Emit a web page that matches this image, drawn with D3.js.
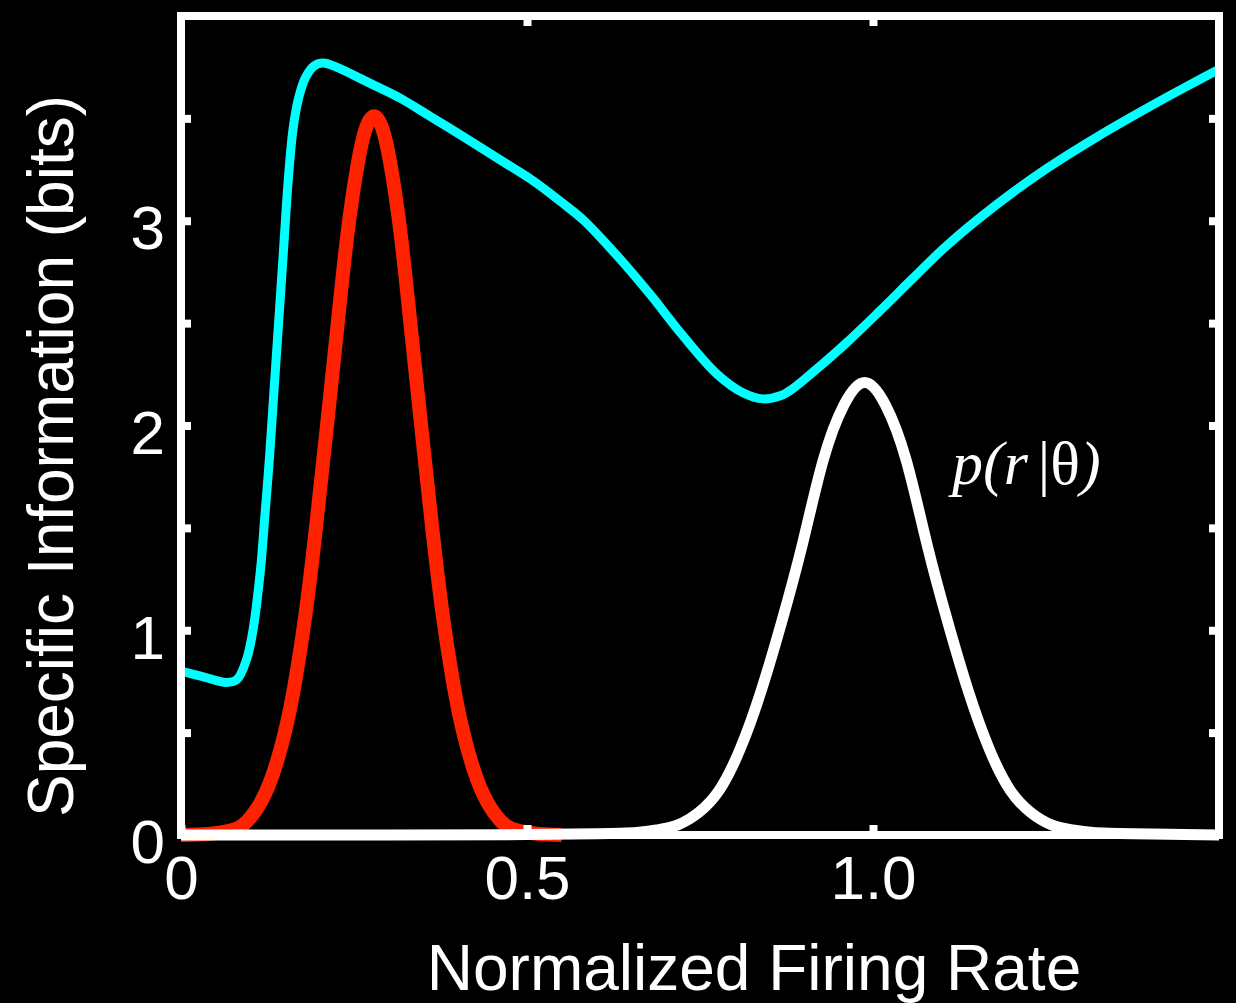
<!DOCTYPE html>
<html>
<head>
<meta charset="utf-8">
<script src="https://cdn.jsdelivr.net/npm/d3@7"></script>
<style>
  html, body { margin: 0; padding: 0; background: #000; }
  svg { display: block; }
</style>
</head>
<body>
<script>
// ---------- data ----------
const cyanX = [0, 0.03, 0.066, 0.081, 0.095, 0.104, 0.115, 0.121, 0.128, 0.134, 0.14, 0.148, 0.155, 0.162, 0.17, 0.18, 0.192, 0.205, 0.225, 0.25, 0.28, 0.316, 0.36, 0.413, 0.46, 0.509, 0.55, 0.581, 0.63, 0.678, 0.725, 0.775, 0.812, 0.841, 0.866, 0.884, 0.913, 0.962, 1.01, 1.058, 1.107, 1.179, 1.251, 1.324, 1.396, 1.45, 1.5];
const cyanY = [0.80, 0.775, 0.745, 0.76, 0.86, 1.0, 1.3, 1.55, 1.85, 2.15, 2.45, 2.85, 3.2, 3.45, 3.6, 3.7, 3.755, 3.77, 3.75, 3.71, 3.66, 3.6, 3.51, 3.40, 3.30, 3.195, 3.09, 3.005, 2.83, 2.64, 2.44, 2.25, 2.16, 2.13, 2.145, 2.18, 2.26, 2.405, 2.56, 2.72, 2.88, 3.08, 3.255, 3.41, 3.55, 3.65, 3.74];

const redX = [0, 0.04, 0.07, 0.09, 0.11, 0.13, 0.15, 0.165, 0.18, 0.195, 0.21, 0.225, 0.24, 0.255, 0.267, 0.279, 0.291, 0.303, 0.318, 0.333, 0.348, 0.363, 0.378, 0.393, 0.408, 0.428, 0.448, 0.468, 0.488, 0.518, 0.55];
const redY = [0, 0.005, 0.02, 0.05, 0.13, 0.27, 0.5, 0.75, 1.08, 1.5, 1.97, 2.45, 2.92, 3.27, 3.45, 3.51, 3.45, 3.27, 2.92, 2.45, 1.97, 1.5, 1.08, 0.75, 0.5, 0.27, 0.13, 0.05, 0.02, 0.005, 0];

const whiteX = [0, 0.3, 0.5, 0.6, 0.658, 0.688, 0.718, 0.748, 0.778, 0.808, 0.838, 0.868, 0.898, 0.928, 0.958, 0.988, 1.018, 1.048, 1.078, 1.108, 1.138, 1.168, 1.198, 1.228, 1.258, 1.288, 1.318, 1.376, 1.45, 1.5];
const whiteY = [0, 0, 0.002, 0.006, 0.012, 0.025, 0.05, 0.11, 0.22, 0.42, 0.70, 1.04, 1.42, 1.83, 2.1, 2.21, 2.1, 1.83, 1.42, 1.04, 0.70, 0.42, 0.22, 0.11, 0.05, 0.025, 0.012, 0.006, 0.002, 0];

const xTickValues = [0, 0.5, 1.0];
const xTickLabels = ["0", "0.5", "1.0"];
const yTickValues = [0, 0.5, 1, 1.5, 2, 2.5, 3, 3.5];
const yTickLabels = ["0", "", "1", "", "2", "", "3", ""];

const xTitle = "Normalized Firing Rate";
const yTitle = "Specific Information (bits)";

// ---------- layout ----------
const W = 1236, H = 1003;
const L = 181, R = 1219, T = 16, B = 835;

const svg = d3.select("body").append("svg")
  .attr("width", W).attr("height", H)
  .style("background", "#000");

svg.append("rect").attr("width", W).attr("height", H).attr("fill", "#000");

const x = d3.scaleLinear().domain([0, 1.5]).range([L, R]);
const y = d3.scaleLinear().domain([0, 4]).range([B, T]);

const sans = "'Liberation Sans', Arial, Helvetica, sans-serif";

// curves (drawn first, frame on top)
const smoothLine = d3.line()
  .x(d => x(d[0])).y(d => y(Math.max(0, d[1])))
  .curve(d3.curveNatural);
const cyanLine = d3.line()
  .x(d => x(d[0])).y(d => y(d[1]))
  .curve(d3.curveCatmullRom.alpha(0.5));

const zipped = (xs, ys) => xs.map((v, i) => [v, ys[i]]);

svg.append("path").datum(zipped(redX, redY))
  .attr("d", smoothLine).attr("fill", "none")
  .attr("stroke", "#ff2200").attr("stroke-width", 14)
  .attr("stroke-linejoin", "round");

svg.append("path").datum(zipped(whiteX, whiteY))
  .attr("d", smoothLine).attr("fill", "none")
  .attr("stroke", "#fff").attr("stroke-width", 11)
  .attr("stroke-linejoin", "round");

svg.append("path").datum(zipped(cyanX, cyanY))
  .attr("d", cyanLine).attr("fill", "none")
  .attr("stroke", "#00ffff").attr("stroke-width", 9)
  .attr("stroke-linejoin", "round");

// frame
svg.append("rect")
  .attr("x", L).attr("y", T)
  .attr("width", R - L).attr("height", B - T)
  .attr("fill", "none").attr("stroke", "#fff").attr("stroke-width", 8);

// axes with inward ticks
function styleAxis(g) {
  g.select(".domain").remove();
  g.selectAll(".tick line").attr("stroke", "#fff").attr("stroke-width", 8);
  g.selectAll(".tick text").attr("fill", "#fff")
    .style("font-family", sans).style("font-size", "62px");
}

const yLeft = svg.append("g").attr("transform", `translate(${L},0)`)
  .call(d3.axisLeft(y).tickValues(yTickValues).tickSize(-10).tickPadding(0)
    .tickFormat((d, i) => yTickLabels[i]));
styleAxis(yLeft);
yLeft.selectAll(".tick text")
  .attr("x", -16).attr("dy", "0.45em").attr("text-anchor", "end");

const yRight = svg.append("g").attr("transform", `translate(${R},0)`)
  .call(d3.axisRight(y).tickValues(yTickValues).tickSize(-10).tickFormat(""));
styleAxis(yRight);

const xBottom = svg.append("g").attr("transform", `translate(0,${B})`)
  .call(d3.axisBottom(x).tickValues(xTickValues).tickSize(-10).tickPadding(0)
    .tickFormat((d, i) => xTickLabels[i]));
styleAxis(xBottom);
xBottom.selectAll(".tick text").attr("y", 64).attr("dy", 0);

const xTop = svg.append("g").attr("transform", `translate(0,${T})`)
  .call(d3.axisTop(x).tickValues(xTickValues.slice(1)).tickSize(-10).tickFormat(""));
styleAxis(xTop);

// titles
svg.append("text")
  .attr("x", 754).attr("y", 990)
  .attr("text-anchor", "middle")
  .attr("fill", "#fff")
  .style("font-family", sans).style("font-size", "64px")
  .text(xTitle);

svg.append("text")
  .attr("transform", `translate(73,${456}) rotate(-90)`)
  .attr("text-anchor", "middle")
  .attr("fill", "#fff")
  .style("font-family", sans).style("font-size", "64px")
  .text(yTitle);

// p(r|θ) annotation
const ann = svg.append("text")
  .attr("x", 952).attr("y", 484)
  .attr("fill", "#fff")
  .style("font-family", "'Liberation Serif', 'Times New Roman', serif")
  .style("font-size", "62px");
ann.append("tspan").style("font-style", "italic").text("p(r");
ann.append("tspan").attr("dx", 10).text("|");
ann.append("tspan").text("θ");
ann.append("tspan").style("font-style", "italic").text(")");
</script>
</body>
</html>
